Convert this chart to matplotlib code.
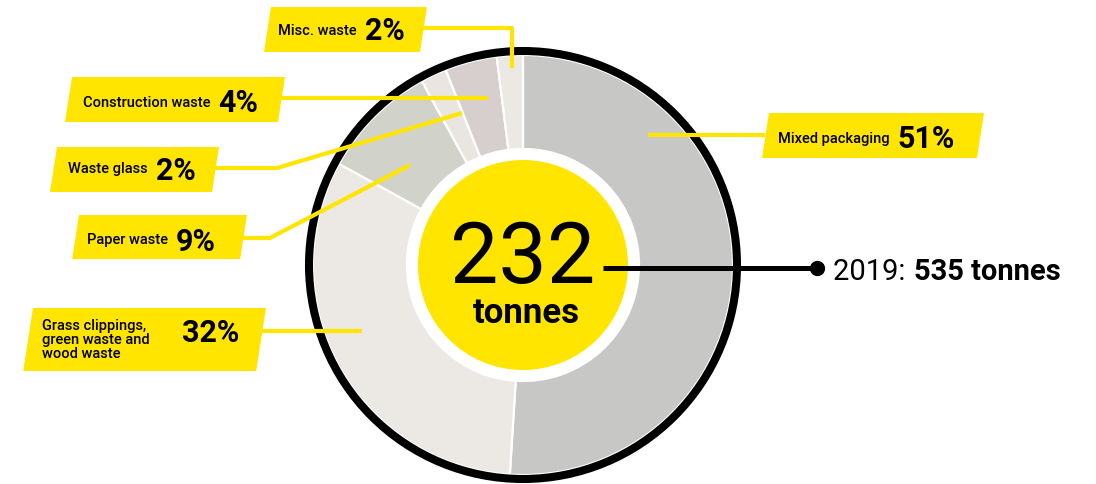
"""Waste by type, 2020 donut chart."""
import matplotlib.pyplot as plt
from matplotlib.patches import Circle, Polygon

plt.rcParams['font.family'] = ['Roboto', 'DejaVu Sans']

# data
categories = ['Mixed packaging', 'Grass clippings,\ngreen waste and\nwood waste',
              'Paper waste', 'Waste glass', 'Construction waste', 'Misc. waste']
shares = [51, 32, 9, 2, 4, 2]
total_now = 232
total_prev = 535
prev_year = 2019

colors = ['#c7c8c6', '#ece8e3', '#d1d2ca', '#e9e6e1', '#d6cfce', '#ece8e3']
YELLOW = '#ffe500'

W, H = 1096, 484
cx, cy = 523, 265  # centre, pixel coords from top

# label layout in pixel coords from top: box (x_tl, x_tr, y_top, y_bot),
# name position, pct position (None = right after name), leader path
layout = {
    'Mixed packaging': dict(box=(769, 984, 113, 158), name=(778, 143), pct=None,
                            pct_y=148, lead=[(648, 135), (765, 135)]),
    'Grass clippings,\ngreen waste and\nwood waste':
        dict(box=(33, 266, 308, 371), name=(42, 340), pct=(182, 342),
             pct_y=342, lead=[(259, 331), (362, 331)]),
    'Paper waste': dict(box=(79, 247, 215, 259), name=(87, 244), pct=None,
                        pct_y=251, lead=[(242, 238), (270, 238), (410, 165)]),
    'Waste glass': dict(box=(57, 219, 147, 192), name=(68, 173), pct=None,
                        pct_y=180, lead=[(214, 168), (277, 168), (462, 113)]),
    'Construction waste': dict(box=(72, 285, 77, 122), name=(83, 107), pct=None,
                               pct_y=112, lead=[(280, 98), (488, 98)]),
    'Misc. waste': dict(box=(271, 427, 7, 52), name=(278, 35), pct=None,
                        pct_y=40, lead=[(423, 28), (512, 28), (512, 68)]),
}
SKEW = 7


def P(x, y):
    return x, H - y


fig = plt.figure(figsize=(W / 100, H / 100), dpi=100)
ax = fig.add_axes([0, 0, 1, 1])

ax.pie(shares, colors=colors, startangle=90, counterclock=False,
       radius=210, center=P(cx, cy),
       wedgeprops=dict(width=210 - 116, edgecolor='white', linewidth=1.6))
ax.add_patch(Circle(P(cx, cy), 214, fill=False, edgecolor='black', linewidth=5.8))
ax.add_patch(Circle(P(cx, cy), 105, facecolor=YELLOW, edgecolor='none'))

ax.text(*P(cx, 283), str(total_now), fontsize=62, ha='center', va='baseline')
ax.text(*P(cx + 3, 323), 'tonnes', fontsize=25, fontweight='bold',
        ha='center', va='baseline')

# previous year pointer
ax.plot(*zip(P(603, 268), P(817, 268)), color='black', lw=3.6, solid_capstyle='butt')
ax.plot(*P(817, 268), 'o', color='black', markersize=10)
ax.set_xlim(0, W)
ax.set_ylim(0, H)
ax.set_aspect('auto')
ax.axis('off')

renderer = fig.canvas.get_renderer()
t = ax.text(*P(833, 280), f'{prev_year}: ', fontsize=21,
            ha='left', va='baseline')
x1 = t.get_window_extent(renderer).x1
ax.text(x1 + 1, H - 280, f'{total_prev} tonnes', fontsize=21, fontweight='bold',
        ha='left', va='baseline')

for cat, share in zip(categories, shares):
    lay = layout[cat]
    xl, xr, yt, yb = lay['box']
    ax.add_patch(Polygon([P(xl, yt), P(xr, yt), P(xr - SKEW * (yb - yt) / 45, yb),
                          P(xl - SKEW * (yb - yt) / 45, yb)],
                         closed=True, facecolor=YELLOW, edgecolor='none', zorder=3))
    xs, ys = zip(*[P(x, y) for x, y in lay['lead']])
    ax.plot(xs, ys, color=YELLOW, lw=3, solid_capstyle='butt', zorder=2)
    if '\n' in cat:
        nt = ax.text(*P(*lay['name']), cat, fontsize=10.5, fontweight='medium',
                     ha='left', va='center', linespacing=1.0, zorder=4)
    else:
        nt = ax.text(*P(*lay['name']), cat, fontsize=10.5, fontweight='medium',
                     ha='left', va='baseline', zorder=4)
    if lay['pct'] is None:
        px = nt.get_window_extent(renderer).x1 + 8
    else:
        px = lay['pct'][0]
    ax.text(px, H - lay['pct_y'], f'{share}%', fontsize=22, fontweight='bold',
            ha='left', va='baseline', zorder=4)

fig.savefig('out.png', dpi=100)
